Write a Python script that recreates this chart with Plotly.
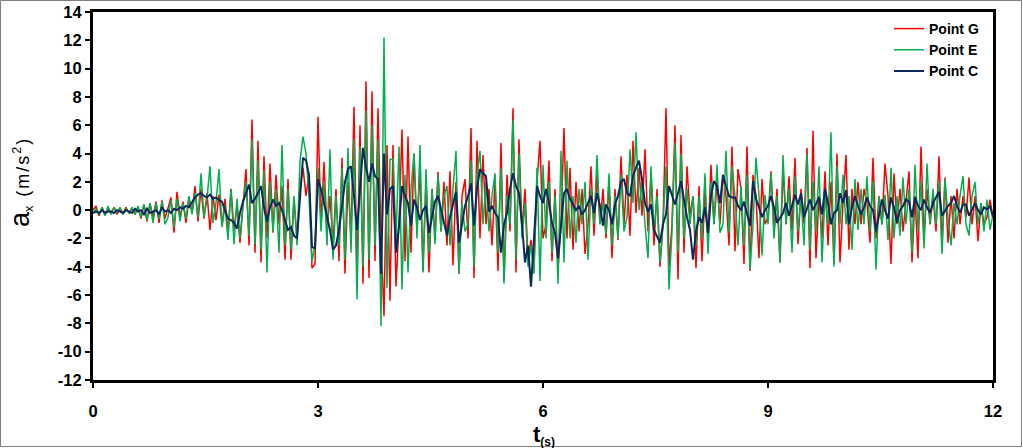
import numpy as np
import plotly.graph_objects as go

# time grid (s)
t_step = 0.04
n_samples = 301
time_s = np.round(np.arange(n_samples) * t_step, 2)

# Point G (red) a_x, m/s^2, one row per second
point_g = [
    0.0, 0.3, -0.4, 0.2, -0.3, 0.1, -0.2, 0.2, -0.3, 0.1, -0.2, 0.2, -0.2, 0.1, -0.3, 0.2, -0.6, 0.4, -0.8, 0.5, -0.5, 0.6, -0.9, 0.7, -0.6,
    0.2, 0.9, -1.6, 1.3, -0.5, 0.6, -0.9, 0.9, -0.2, 1.7, -0.8, 1.5, -0.6, 1.2, -1.4, 1.0, -0.7, 1.1, -1.1, 0.8, -1.6, 1.5, -1.4, 0.4, -2.3,
    0.2, 2.9, -2.5, 6.4, -3.0, 4.9, -3.7, 3.8, -2.0, 3.3, -1.6, 2.5, -1.0, 1.7, -3.5, 2.2, -3.5, 0.8, -2.0, 1.5, 3.0, 1.0, 2.5, -4.1, -3.8,
    6.6, -1.0, 3.4, -1.5, 1.0, -2.5, 1.5, -3.6, 3.7, -4.5, 2.0, -2.0, 7.3, -4.7, 6.0, -5.2, 9.1, -4.8, 8.4, -3.6, 7.2, -2.0, -7.5, 4.6, -6.4,
    4.6, -5.4, -1.0, 5.7, -3.6, 5.2, -3.0, 4.0, -1.5, 3.0, -4.3, 2.0, -4.4, 1.5, -2.0, 2.7, -1.5, 2.0, -2.5, 2.75, -3.9, 2.0, -4.5, 1.0, 2.2,
    -2.0, 5.8, -4.8, 4.9, -2.0, 3.9, -1.0, 1.5, -2.5, 2.0, -4.3, 4.75, -5.0, 2.5, -1.5, 7.2, -4.4, 5.0, -1.5, 1.5, -3.5, -2.1, -4.1, 2.0, 4.9,
    -2.0, -1.0, 3.5, -3.6, 1.5, -4.2, -1.0, 5.8, -2.0, 3.0, -2.8, 2.0, -1.5, 1.5, -3.1, -1.0, 3.1, -1.8, 2.5, -1.0, 1.5, -2.0, 2.0, -3.4, 1.5,
    -2.1, 3.8, -1.0, 2.5, -1.8, 4.9, -0.2, 3.0, -0.4, 4.3, -1.5, 2.5, -2.5, 1.5, -4.0, -1.0, 7.2, -4.0, -1.0, 6.0, -4.9, 5.3, -3.0, 3.1, -0.4,
    1.0, -4.1, 1.7, -3.6, 1.5, -2.0, 3.2, -1.0, 2.0, -1.0, 2.5, 1.0, -2.5, 4.5, -2.9, 2.9, 1.5, -3.8, 4.5, -4.3, 2.5, 1.0, -3.4, 2.2, -1.0,
    -0.5, 2.75, -1.5, 1.5, -3.7, 3.0, -1.0, 2.4, -1.5, 3.7, -2.4, 1.5, -1.0, 4.4, -4.1, 5.6, -3.4, 1.0, -2.0, 2.75, -2.5, 2.0, -3.8, 4.0, -3.7,
    0.5, 3.9, -2.8, 1.5, -1.0, 2.0, -1.0, 1.5, 0.5, -2.3, 3.7, -2.0, 1.0, -1.0, 3.3, 1.0, -3.8, 2.6, -1.0, 1.5, -1.5, 0.5, 2.75, -3.7, 1.0,
    -3.4, 4.5, -2.0, 1.5, -1.0, 1.0, -1.5, 3.8, -2.5, 2.3, -2.3, 1.0, -2.0, 1.5, -1.0, 1.0, -0.5, 2.3, -1.0, 1.0, -2.2, 0.5, -1.0, -0.5, 0.75,
    -0.5,
]

# Point E (green)
point_e = [
    -0.2, 0.1, -0.3, 0.2, -0.4, 0.3, -0.3, 0.2, -0.2, 0.2, -0.3, 0.1, -0.2, 0.2, -0.3, 0.3, -0.5, 0.4, -0.7, 0.5, -0.9, 0.5, -0.6, 0.6, -1.0,
    -0.5, 0.7, -1.2, 0.8, -0.8, 0.5, -0.6, 1.0, -0.3, 1.2, -0.5, 2.6, -0.5, 0.8, 3.1, -0.9, 0.5, 2.9, -1.2, 0.3, -2.1, 1.5, -2.4, 0.8, -2.0,
    0.5, 2.0, -1.8, 5.0, -2.4, 3.5, -2.8, 2.8, -4.4, 2.0, -1.5, 1.5, -3.0, 4.6, -2.5, 1.5, -2.8, 1.0, -2.5, 3.5, 5.2, 4.0, 1.0, -3.6, -2.5,
    3.0, -1.5, 2.0, -2.5, 4.3, -3.5, 1.0, -2.5, 3.0, -3.5, 4.4, -3.0, 5.0, -6.3, 4.5, -4.0, 7.0, -3.5, 6.0, -2.5, 5.0, -8.2, 12.2, -5.5, 3.6,
    3.6, -2.0, 4.5, -5.6, 2.5, -4.4, 1.5, 4.0, -2.0, 4.6, -4.4, 2.9, -3.0, 1.5, -2.4, 2.5, -1.5, 1.0, 1.7, -2.5, 1.5, 4.2, -4.5, 0.5, -1.5,
    -1.0, 3.5, -4.0, 2.5, 4.2, -1.0, 2.0, -1.5, 1.0, 2.6, -3.0, 3.0, -5.2, 1.0, -1.0, 6.4, -3.5, 4.0, -2.0, 0.5, -4.0, -2.5, -4.5, 3.0, -5.0,
    3.2, -2.0, 2.0, -3.0, 1.0, -5.2, 4.2, -3.7, 3.5, -2.0, 1.0, -2.3, 1.5, -1.0, 2.0, -3.5, 1.5, -1.0, 3.9, -1.0, 0.5, -1.7, 2.6, -2.5, 1.0,
    -2.0, 2.5, -1.5, -0.5, 4.3, 0.5, 5.5, 0.0, 2.0, -1.0, -3.4, 3.1, -1.5, 1.0, -3.7, -1.0, 3.1, -5.6, -1.5, 4.75, -3.0, 4.0, -2.0, 1.5, -1.0,
    1.0, -2.5, 1.0, -2.0, 2.6, -3.1, 2.0, -1.0, 3.2, -1.6, -1.0, 4.2, -1.6, 3.1, 1.0, -2.5, 1.7, -2.5, 2.5, -4.2, -1.0, 3.7, 1.0, -3.2, 1.1,
    -1.0, 2.6, -2.0, 1.0, -3.7, 3.9, -1.0, 1.5, -3.0, 2.4, -1.5, 1.0, -2.5, 4.0, -2.8, 2.0, -1.5, 3.1, -3.7, 1.0, -1.0, 5.5, -4.0, 3.1, -1.0,
    2.5, -1.0, 1.0, -2.8, 2.2, -1.4, 1.5, -1.0, 2.4, -1.5, 2.0, -4.2, 1.0, -1.0, 1.1, -2.1, 3.0, -2.0, 1.0, -1.8, 2.3, -1.0, 1.5, -3.0, 3.2,
    -1.5, 2.0, -2.7, 3.3, -1.0, 1.5, -1.0, 2.0, -3.1, 2.2, -0.5, -2.5, 0.5, -1.0, 1.0, 2.4, -1.0, -1.8, 1.0, 2.0, -1.0, 0.5, -1.5, 0.75, -1.4,
    -0.3,
]

# Point C (navy)
point_c = [
    -0.2, -0.1, -0.2, 0.0, -0.2, -0.1, -0.1, -0.2, 0.0, -0.1, -0.2, 0.0, -0.1, -0.2, 0.1, -0.1, 0.0, -0.3, 0.1, -0.2, -0.1, 0.0, -0.3, 0.2, -0.1,
    0.0, -0.2, 0.1, 0.0, 0.2, 0.1, 0.3, 0.2, 0.6, 0.9, 1.1, 1.2, 1.0, 0.9, 1.1, 0.8, 0.9, 0.7, 0.6, 0.0, -0.6, -0.7, -0.9, -1.3, -0.2,
    0.6, 1.2, 1.8, 0.5, 0.8, 1.2, 1.7, 0.2, -0.8, 0.2, 0.75, 0.3, 0.5, 0.0, -0.8, -1.4, -1.2, -1.8, -2.0, 1.0, 3.7, 3.5, 2.5, -2.6, -2.7,
    2.2, 1.5, 0.5, -0.5, -1.4, -2.8, -2.5, -1.4, 0.5, 2.0, 2.9, 3.1, 1.0, -1.4, 1.5, 4.4, 3.0, 2.0, 3.3, 2.4, 2.2, -4.5, 4.0, -0.3, 1.5,
    1.7, -3.0, -1.1, 1.7, 1.0, 0.5, -1.1, 0.75, 0.2, -0.7, 0.0, 0.3, -1.6, -0.5, 0.6, 1.0, 0.0, -0.9, -1.8, -0.5, 0.5, 1.3, -2.3, -1.0, 0.3,
    1.0, 1.9, -1.1, 1.5, 2.9, 2.6, 2.4, -0.1, 0.3, -0.2, -0.5, -3.0, -1.0, -0.2, 1.5, 2.6, 1.7, 1.2, -1.0, -3.7, -2.5, -5.4, -2.0, 1.7, 1.0,
    0.5, 1.5, 0.5, -0.9, -1.6, -3.4, -1.0, 1.2, 1.5, 0.8, 0.4, 0.0, 0.3, -0.3, 0.0, 0.5, 1.0, -0.2, 1.2, 0.3, -1.1, 0.4, 0.0, -1.0, 0.4,
    1.0, 2.0, 2.2, 1.2, 1.0, 2.4, 3.0, 3.5, 2.2, 0.5, -0.1, 0.4, -1.4, -1.8, -2.3, -1.0, -0.3, 1.7, 1.0, 0.4, 1.2, 2.05, 0.75, -0.5, -1.4,
    -3.5, -1.5, -0.5, -0.9, 0.2, -1.6, 1.0, 2.05, 1.7, 0.5, 2.5, 1.7, 1.0, 0.9, 0.9, 0.3, 0.0, 0.6, -0.3, -1.1, 2.05, 0.8, 0.2, -0.5, 0.0,
    0.3, 1.0, 0.2, -0.9, -0.5, -0.2, 0.5, -0.4, 0.3, 1.1, 0.4, 1.2, -0.5, 0.2, 0.75, 0.0, 0.5, 0.9, -0.3, 1.5, 0.5, -1.0, -0.2, 0.0, 1.2,
    0.5, 1.4, -1.0, 0.2, 1.0, 0.3, -0.3, 0.2, 0.9, 0.3, 0.0, -1.5, -0.3, 0.75, 0.0, -0.6, 0.9, 0.2, -0.9, 0.0, 0.3, 0.75, 0.6, -0.5, 0.9,
    0.3, 0.0, 0.75, 0.2, -0.2, 0.5, 0.9, 1.3, -0.4, 0.0, 0.3, 0.5, 1.0, 0.3, -0.2, 0.4, 0.4, -0.4, 0.0, 0.5, 0.0, -0.3, 0.2, 0.05, 0.3,
    -0.5,
]

series_names = ["Point G", "Point E", "Point C"]
series_colors = ["#ff0000", "#00b050", "#0b2a5c"]
series_widths = [1.5, 1.5, 2.0]
x_ticks = [0, 3, 6, 9, 12]
y_ticks = list(range(-12, 15, 2))

FONT = "Liberation Sans, Arial, sans-serif"

fig = go.Figure()
for name, vals, col, w in zip(series_names, [point_g, point_e, point_c], series_colors, series_widths):
    fig.add_trace(go.Scatter(x=time_s, y=vals, mode="lines", name=name,
                             line=dict(color=col, width=w)))

axis_common = dict(showline=True, linecolor="black", linewidth=3, mirror=True,
                   showgrid=False, zeroline=False, ticks="outside", ticklen=5,
                   tickwidth=2, tickcolor="black", automargin=False,
                   tickfont=dict(family=FONT, size=16.5, color="black", weight="bold"))

fig.update_xaxes(range=[0, 12], tickvals=x_ticks, ticktext=[str(v) for v in x_ticks],
                 ticklabelstandoff=9, **axis_common)
fig.update_yaxes(range=[-12, 14], tickvals=y_ticks, ticktext=[str(v) for v in y_ticks],
                 **axis_common)

L, R, T, B = 93, 30, 12, 68
W, H = 1023, 448
pw, ph = W - L - R, H - T - B


def px_x(px):
    return (px - L) / pw


def px_y(py):
    return (H - B - py) / ph


fig.update_layout(
    width=W, height=H, autosize=False,
    margin=dict(l=L, r=R, t=T, b=B, autoexpand=False),
    plot_bgcolor="white", paper_bgcolor="white",
    showlegend=True,
    legend=dict(x=px_x(889), y=px_y(13), xanchor="left", yanchor="top",
                bgcolor="rgba(0,0,0,0)", tracegroupgap=0,
                font=dict(family=FONT, size=14, color="black", weight="bold")),
    annotations=[
        dict(text="a<span style='font-size:18px;letter-spacing:2px'><sub>x</sub> (m/s<sup>2</sup>)</span>",
             xref="paper", yref="paper", x=px_x(20), y=px_y(182),
             textangle=-90, showarrow=False, xanchor="center", yanchor="middle",
             font=dict(family=FONT, size=27, color="black")),
        dict(text="<b>t<span style='font-size:17px'><sub>(s)</sub></span></b>",
             xref="paper", yref="paper", x=px_x(544), y=px_y(435),
             showarrow=False, xanchor="center", yanchor="middle",
             font=dict(family=FONT, size=22, color="black")),
    ],
    shapes=[
        dict(type="rect", xref="paper", yref="paper",
             x0=px_x(0.5), x1=px_x(1021.5), y0=px_y(446.5), y1=px_y(0.5),
             line=dict(color="#7f7f7f", width=1), fillcolor="rgba(0,0,0,0)"),
    ],
)

fig.write_html("out.html", config={"displayModeBar": False},
               post_script="document.body.style.margin='0';document.body.style.padding='0';document.body.style.overflow='hidden';")
